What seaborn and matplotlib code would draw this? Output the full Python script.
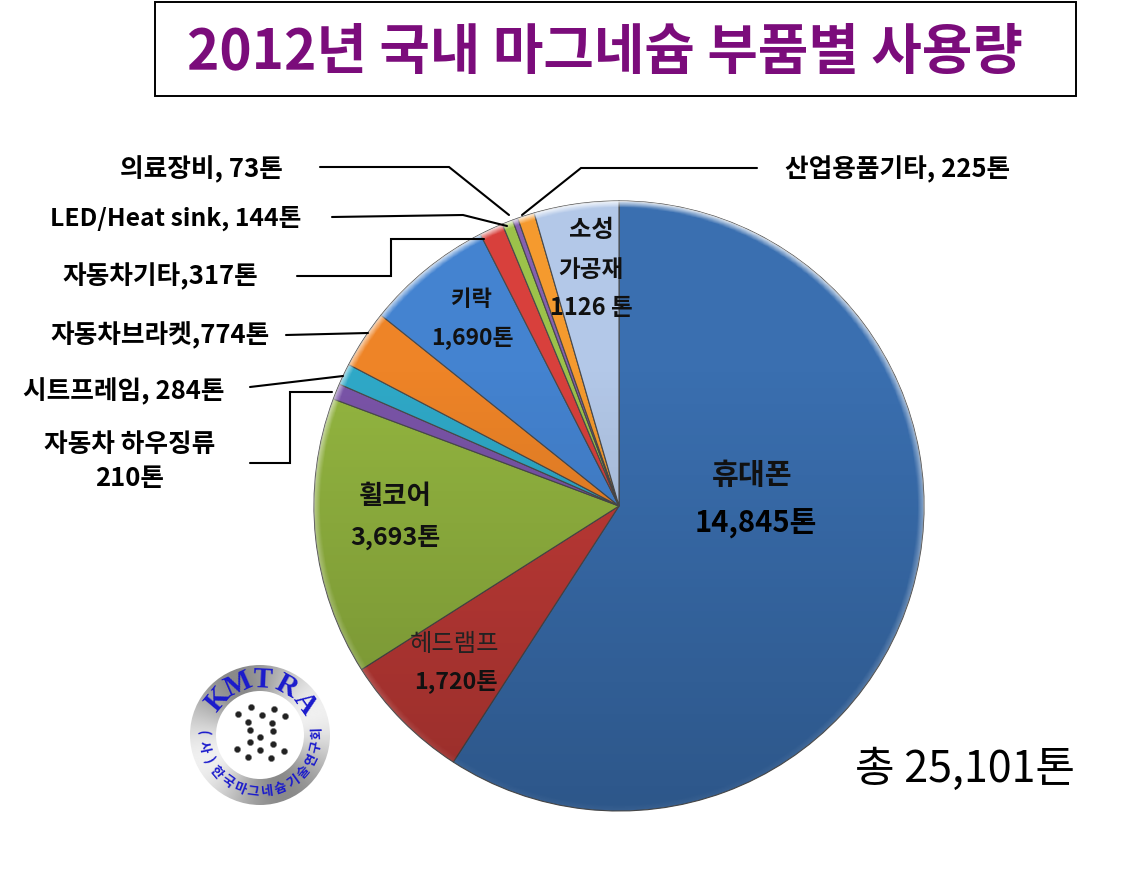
import numpy as np
import seaborn as sns
import matplotlib.pyplot as plt
from matplotlib.patches import Circle, Rectangle

sns.set_theme(style="white")
plt.rcParams['font.family'] = ['Noto Sans CJK KR', 'DejaVu Sans']

# clockwise from 12 o'clock
parts = ['휴대폰', '헤드램프', '휠코어', '자동차 하우징류', '시트프레임', '자동차브라켓',
         '키락', '자동차기타', 'LED/Heat sink', '의료장비', '산업용품기타', '소성가공재']
tons = [14845, 1720, 3693, 210, 284, 774, 1690, 317, 144, 73, 225, 1126]
colors = ['#3a6fb0', '#c23b37', '#93b540', '#7a54a8', '#2fa9c8', '#ee8427',
          '#4483d0', '#d8403c', '#9cc24a', '#8560b0', '#f59a2e', '#b3c8e8']
title = '2012년 국내 마그네슘 부품별 사용량'
total_label = '총 25,101톤'

W, H = 1144, 883
fig = plt.figure(figsize=(W / 100, H / 100), dpi=100)
fig.patch.set_facecolor('white')

# the pie sits at a fixed pixel box
cx, cy, r = 619, 506, 305
ax = fig.add_axes([(cx - r) / W, (H - cy - r) / H, 2 * r / W, 2 * r / H])
wedges, _ = ax.pie(tons, colors=sns.color_palette(colors), startangle=90, counterclock=False,
                   radius=1, wedgeprops=dict(edgecolor='#4a4a4a', linewidth=0.8))

# glassy shading: a bit darker toward the bottom, pale bevel round the rim
yy, xx = np.mgrid[1:-1:500j, -1:1:500j]
rr = np.hypot(xx, yy)
shade = np.zeros((500, 500, 4))
shade[..., 3] = np.clip(0.07 - 0.15 * yy, 0, 0.22)
im = ax.imshow(shade, extent=(-1, 1, -1, 1), zorder=5, aspect='auto')
im.set_clip_path(Circle((0, 0), 1, transform=ax.transData))
rim = np.zeros((500, 500, 4))
rim[..., :3] = 1
rim[..., 3] = np.clip((rr - 0.98) / 0.02, 0, 1) * np.clip(0.4 + 0.4 * yy, 0.05, 0.8)
im2 = ax.imshow(rim, extent=(-1, 1, -1, 1), zorder=6, aspect='auto')
im2.set_clip_path(Circle((0, 0), 1, transform=ax.transData))
ax.set_xlim(-1, 1)
ax.set_ylim(-1, 1)
ax.axis('off')

# overlay in reference pixel coordinates for text, leaders and logo
ov = fig.add_axes([0, 0, 1, 1], facecolor='none')
ov.axis('off')

ov.add_patch(Rectangle((155, 2), 921, 94, fill=False, edgecolor='black', linewidth=1.4))
ov.text(605, 52, title, color='#7b0c7b', fontsize=39.5, fontweight='bold', ha='center', va='center')


def label(x, y, s, size=18.5, color='black', weight='bold'):
    ov.text(x, y, s, fontsize=size, fontweight=weight, color=color, ha='center', va='center')


label(201, 170, '의료장비, 73톤')
label(176, 218, 'LED/Heat sink, 144톤', size=17.8)
label(160, 277, '자동차기타,317톤')
label(160, 335, '자동차브라켓,774톤')
label(124, 392, '시트프레임, 284톤')
label(130, 444, '자동차 하우징류')
label(130, 478, '210톤')
label(898, 170, '산업용품기타, 225톤')

label(591, 230, '소성', size=17.5, color='#111111')
label(591, 270, '가공재', size=17, color='#111111')
label(591, 308, '1126 톤', size=17, color='#111111')
label(471, 300, '키락', size=16, color='#111111')
label(472, 339, '1,690톤', size=16.5, color='#111111')
label(752, 475, '휴대폰', size=21, color='#111111')
label(756, 524, '14,845톤', size=21, color='black')
label(395, 496, '휠코어', size=19, color='#111111')
label(395, 537, '3,693톤', size=18, color='#111111')
label(455, 644, '헤드램프', size=17.5, color='#222222', weight='medium')
label(456, 681, '1,720톤', size=16.7, color='#111111')
ov.text(965, 770, total_label, fontsize=31, color='black', ha='center', va='center')

# leader lines
leaders = [
    ([320, 449, 509], [167, 167, 215]),
    ([332, 463, 507], [217, 215, 226]),
    ([297, 391, 391, 484], [276, 276, 239, 239]),
    ([286, 368], [335, 333]),
    ([250, 343], [387, 376]),
    ([250, 290, 290, 332], [463, 463, 392, 392]),
    ([757, 581, 522], [168, 168, 215]),
]
for xs, ys in leaders:
    ov.plot(xs, ys, color='black', linewidth=1.5, solid_joinstyle='miter')

# KMTRA logo
lx, ly, lr = 260, 735, 70
ring_y, ring_x = np.mgrid[-1:1:300j, -1:1:300j]
ring = 0.74 + 0.2 * np.cos(2 * np.arctan2(ring_y, ring_x) + 0.8)
logo = ov.imshow(ring, cmap='gray', vmin=0, vmax=1, zorder=3, aspect='auto',
                 extent=(lx - lr, lx + lr, ly + lr, ly - lr))
logo.set_clip_path(Circle((lx, ly), lr, transform=ov.transData))
ov.add_patch(Circle((lx, ly), 44, facecolor='white', edgecolor='none', zorder=4))
ov.set_xlim(0, W)
ov.set_ylim(H, 0)


def arc_text(s, start, stop, radius, size, bottom=False, weight='normal'):
    for ch, ang in zip(s, np.linspace(start, stop, len(s))):
        a = np.radians(ang)
        px, py = lx + radius * np.cos(a), ly - radius * np.sin(a)
        rot = ang - 90 if not bottom else ang + 90
        ov.text(px, py, ch, color='#1a1acc', fontsize=size, fontweight=weight, rotation=rot,
                ha='center', va='center', zorder=5, family='Liberation Serif' if not bottom else None)


arc_text('KMTRA', 140, 35, 55, 21, weight='bold')
arc_text('(사)한국마그네슘기술연구회', 178, 362, 57, 9.5, bottom=True, weight='bold')

dots_x = [238, 251, 262, 274, 285, 248, 272, 250, 273, 260, 250, 273, 237, 260, 284, 248, 271]
dots_y = [714, 707, 715, 709, 716, 722, 723, 730, 731, 737, 742, 744, 749, 750, 751, 757, 758]
ov.scatter(dots_x, dots_y, s=20, color='#222222', zorder=5, edgecolors='#777777', linewidths=0.4)

fig.savefig('out.png', dpi=100)
